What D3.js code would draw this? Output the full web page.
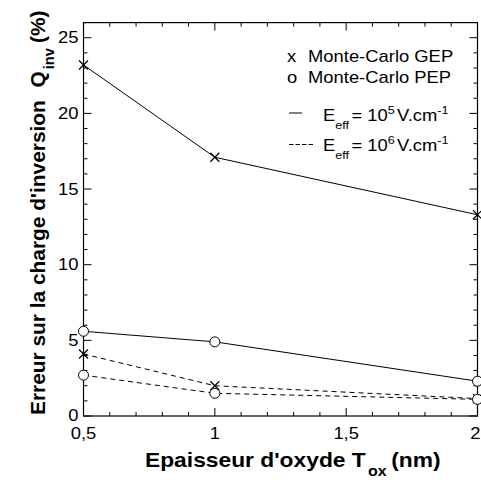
<!DOCTYPE html>
<html><head><meta charset="utf-8">
<script src="https://cdn.jsdelivr.net/npm/d3@7"></script>
<style>body{margin:0;background:#fff}svg{display:block;font-family:"Liberation Sans",Arial,sans-serif}</style>
</head><body>
<svg id="c" width="481" height="480"></svg>
<script>
const thickness = [0.5, 1, 2];
const gep_1e5 = [23.2, 17.1, 13.3];
const pep_1e5 = [5.6, 4.9, 2.3];
const gep_1e6 = [4.1, 2.0, 1.15];
const pep_1e6 = [2.7, 1.5, 1.1];
const xTicks = [0.5, 1, 1.5, 2];
const xTickLabels = ["0,5", "1", "1,5", "2"];
const yTicks = [0, 5, 10, 15, 20, 25];

const svg = d3.select("#c");
const W = 481;
const L = 83.5, R = 477.5, T = 22.6, B = 416;
const x = d3.scaleLinear().domain([0.5, 2]).range([L, R]);
const y = d3.scaleLinear().domain([0, 26]).range([B, T]);
const fs = 16, SX = 1.15;

function stext(px, py, sx, opts) {
  const t = svg.append("text").attr("transform", `translate(${px},${py}) scale(${sx},1)`)
    .attr("font-size", opts.size || fs);
  if (opts.anchor) t.attr("text-anchor", opts.anchor);
  if (opts.bold) t.attr("font-weight", "bold");
  if (opts.text !== undefined) t.text(opts.text);
  return t;
}

// ticks
const xMinor = d3.range(5, 21).map(d => d / 10);
const yMinor = d3.range(0, 27);
const g = svg.append("g");
function ticks(arr, isX, major) {
  arr.forEach(v => {
    const len = major.includes(v) ? 8 : 4;
    if (isX) {
      const px = x(v);
      g.append("line").attr("x1", px).attr("x2", px).attr("y1", B).attr("y2", B - len).attr("stroke", "#000");
      g.append("line").attr("x1", px).attr("x2", px).attr("y1", T).attr("y2", T + len).attr("stroke", "#000");
    } else {
      const py = y(v);
      g.append("line").attr("x1", L).attr("x2", L + len).attr("y1", py).attr("y2", py).attr("stroke", "#000");
      g.append("line").attr("x1", R).attr("x2", R - len).attr("y1", py).attr("y2", py).attr("stroke", "#000");
    }
  });
}
ticks(xMinor.filter(v => !xTicks.includes(v)), true, []);
ticks(xTicks, true, xTicks);
ticks(yMinor.filter(v => !yTicks.includes(v)), false, []);
ticks(yTicks, false, yTicks);

g.append("rect").attr("x", L).attr("y", T).attr("width", R - L).attr("height", B - T)
  .attr("fill", "none").attr("stroke", "#000").attr("stroke-width", 1.2);

// tick labels
xTicks.forEach((v, i) => {
  const t = stext(x(v), 438.5, SX, {anchor: "middle", text: xTickLabels[i]});
  const w = t.node().getBBox().width * SX;
  if (x(v) + w / 2 > W - 0.5) t.attr("transform", `translate(${W - 0.5 - w / 2},438.5) scale(${SX},1)`);
});
yTicks.forEach(v => {
  stext(78.5, y(v) + (v === 0 ? 4.5 : 5.5), SX, {anchor: "end", text: v});
});

// lines
const line = d3.line().x((d, i) => x(thickness[i])).y(d => y(d));
const series = [
  {v: gep_1e5, dash: null, m: "x"},
  {v: pep_1e5, dash: null, m: "o"},
  {v: gep_1e6, dash: "5,4", m: "x"},
  {v: pep_1e6, dash: "5,4", m: "o"}
];
series.forEach(s => {
  svg.append("path").attr("d", line(s.v)).attr("fill", "none").attr("stroke", "#000")
    .attr("stroke-width", 1).attr("stroke-dasharray", s.dash);
});
series.forEach(s => {
  s.v.forEach((d, i) => {
    const px = x(thickness[i]), py = y(d);
    if (s.m === "o") {
      svg.append("circle").attr("cx", px).attr("cy", py).attr("r", 5)
        .attr("fill", "#fff").attr("stroke", "#000").attr("stroke-width", 1);
    } else {
      const r = 4.5;
      svg.append("path").attr("d", `M${px - r},${py - r}L${px + r},${py + r}M${px - r},${py + r}L${px + r},${py - r}`)
        .attr("stroke", "#000").attr("stroke-width", 1.2);
    }
  });
});

// legend
stext(287, 62, SX, {text: "x"});
stext(308, 62, SX, {text: "Monte-Carlo GEP"});
stext(287, 83, SX, {text: "o"});
stext(308, 83, SX, {text: "Monte-Carlo PEP"});
svg.append("line").attr("x1", 289).attr("x2", 302).attr("y1", 113).attr("y2", 113).attr("stroke", "#000");
svg.append("line").attr("x1", 289).attr("x2", 313).attr("y1", 144.5).attr("y2", 144.5).attr("stroke", "#000").attr("stroke-dasharray", "4.5,2");
function eff(yb, exp) {
  const t = stext(323, yb, SX, {});
  t.append("tspan").text("E");
  t.append("tspan").attr("font-size", 11).attr("dy", 8).text("eff");
  t.append("tspan").attr("dy", -8).attr("dx", 2).text("= 10");
  t.append("tspan").attr("font-size", 11).attr("dy", -7).text(exp);
  t.append("tspan").attr("dy", 7).attr("dx", 2).text("V.cm");
  t.append("tspan").attr("font-size", 11).attr("dy", -7).text("-1");
}
eff(121, "5");
eff(151, "6");

// axis titles
const xt = stext(145, 467, 1.14, {size: 20, bold: true});
xt.append("tspan").text("Epaisseur d'oxyde T");
xt.append("tspan").attr("font-size", 14).attr("dy", 9).attr("dx", 2).text("ox");
xt.append("tspan").attr("dy", -9).attr("dx", 4).text("(nm)");

const yt = svg.append("text").attr("transform", "translate(45,415) rotate(-90) scale(1.045,1)")
  .attr("font-size", 20).attr("font-weight", "bold");
yt.append("tspan").text("Erreur sur la charge d'inversion");
yt.append("tspan").attr("dx", 12).text("Q");
yt.append("tspan").attr("font-size", 14).attr("dy", 9).attr("dx", 2).text("inv");
yt.append("tspan").attr("dy", -9).attr("dx", 5).text("(%)");
</script>
</body></html>
